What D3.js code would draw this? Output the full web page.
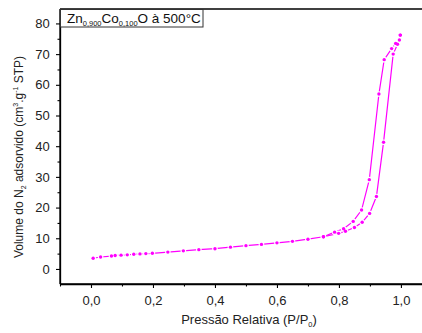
<!DOCTYPE html>
<html><head><meta charset="utf-8">
<script src="https://cdn.jsdelivr.net/npm/d3@7"></script>
<style>body{margin:0;background:#fff}svg{display:block;font-family:"Liberation Sans",Arial,sans-serif}</style>
</head><body><svg id="c" width="422" height="333"></svg>
<script>
const adsP = [0.007,0.031,0.066,0.078,0.097,0.117,0.138,0.158,0.177,0.198,0.248,0.298,0.348,0.4,0.45,0.5,0.55,0.6,0.65,0.7,0.75,0.799,0.821,0.85,0.875,0.899,0.921,0.944,0.975,0.989,0.998];
const adsV = [3.5,3.9,4.2,4.4,4.5,4.6,4.8,4.9,5.0,5.1,5.5,5.9,6.3,6.6,7.1,7.6,8.0,8.5,9.0,9.7,10.5,11.6,12.3,13.5,15.2,18.1,23.6,41.3,70.0,73.2,76.2];
const desP = [0.998,0.995,0.983,0.97,0.946,0.929,0.898,0.873,0.846,0.815,0.786,0.75];
const desV = [76.2,74.6,73.5,71.8,68.2,57.0,29.1,19.2,15.5,13.1,12.0,10.5];
const xTicks = [0.0,0.2,0.4,0.6,0.8,1.0];
const yTicks = [0,10,20,30,40,50,60,70,80];

const svg = d3.select("#c");
const x = d3.scaleLinear().domain([-0.1,1.068]).range([60,422]);
const y = d3.scaleLinear().domain([-4.9,84.7]).range([284,9]);
const col = "#ff00ff";

svg.append("line").attr("x1",60).attr("x2",422).attr("y1",9).attr("y2",9).attr("stroke","#000").attr("stroke-width",1.3);

const fmt = d => d3.format(".1f")(d).replace(".",",");
const gx = svg.append("g").attr("transform","translate(0,284)")
  .call(d3.axisBottom(x).tickValues(xTicks).tickFormat(fmt).tickSize(4).tickSizeOuter(0));
const gxm = svg.append("g").attr("transform","translate(0,284)")
  .call(d3.axisBottom(x).tickValues([-0.1,0.1,0.3,0.5,0.7,0.9]).tickFormat("").tickSize(2.5).tickSizeOuter(0));
const gy = svg.append("g").attr("transform","translate(60,0)")
  .call(d3.axisLeft(y).tickValues(yTicks).tickSize(4).tickSizeOuter(0));
const gym = svg.append("g").attr("transform","translate(60,0)")
  .call(d3.axisLeft(y).tickValues([5,15,25,35,45,55,65,75]).tickFormat("").tickSize(2.5).tickSizeOuter(0));
[gx,gxm,gy,gym].forEach(g=>{
  g.selectAll("path").attr("stroke","#000").attr("stroke-width",1.3);
  g.selectAll("line").attr("stroke","#000").attr("stroke-width",1.1);
  g.selectAll("text").attr("font-size",13).attr("fill","#222").attr("font-family","Liberation Sans, Arial, sans-serif");
});
gx.select(".domain").attr("d","M60,0H422");
gy.select(".domain").attr("d","M0,9V284");
gx.selectAll("text").attr("dy","1.1em");
gy.selectAll("text").attr("dx","-0.25em");

const line = d3.line().x(d=>x(d[0])).y(d=>y(d[1]));
const ads = adsP.map((p,i)=>[p,adsV[i]]);
const des = desP.map((p,i)=>[p,desV[i]]);
[ads,des].forEach(s=>{
  svg.append("path").attr("d",line(s)).attr("fill","none").attr("stroke",col).attr("stroke-width",1.2);
});
[ads,des].forEach(s=>{
  svg.append("g").selectAll("circle").data(s).join("circle")
    .attr("cx",d=>x(d[0])).attr("cy",d=>y(d[1])).attr("r",2.8).attr("fill","#fff");
});
[ads,des].forEach(s=>{
  svg.append("g").selectAll("circle").data(s).join("circle")
    .attr("cx",d=>x(d[0])).attr("cy",d=>y(d[1])).attr("r",1.7).attr("fill",col);
});

svg.append("rect").attr("x",60.5).attr("y",9.5).attr("width",142.5).attr("height",17.5).attr("fill","#fff").attr("stroke","#333").attr("stroke-width",1);
const lt = svg.append("text").attr("x",67).attr("y",23).attr("font-size",13.5).attr("fill","#111");
lt.append("tspan").text("Zn");
lt.append("tspan").attr("font-size",7.5).attr("dy",3).text("0,900");
lt.append("tspan").attr("dy",-3).text("Co");
lt.append("tspan").attr("font-size",7.5).attr("dy",3).text("0,100");
lt.append("tspan").attr("dy",-3).text("O à 500°C");

const xt = svg.append("text").attr("x",249).attr("y",324).attr("text-anchor","middle").attr("font-size",13).attr("fill","#222");
xt.append("tspan").text("Pressão Relativa (P/P");
xt.append("tspan").attr("font-size",7.5).attr("dy",3).text("0");
xt.append("tspan").attr("dy",-3).text(")");

const yt = svg.append("text").attr("transform","translate(23,157) rotate(-90)").attr("text-anchor","middle").attr("font-size",12).attr("fill","#222");
yt.append("tspan").text("Volume do N");
yt.append("tspan").attr("font-size",7).attr("dy",3).text("2");
yt.append("tspan").attr("dy",-3).text(" adsorvido (cm");
yt.append("tspan").attr("font-size",7).attr("dy",-5).text("3");
yt.append("tspan").attr("dy",5).text(".g");
yt.append("tspan").attr("font-size",7).attr("dy",-5).text("-1");
yt.append("tspan").attr("dy",5).text(" STP)");
</script></body></html>
